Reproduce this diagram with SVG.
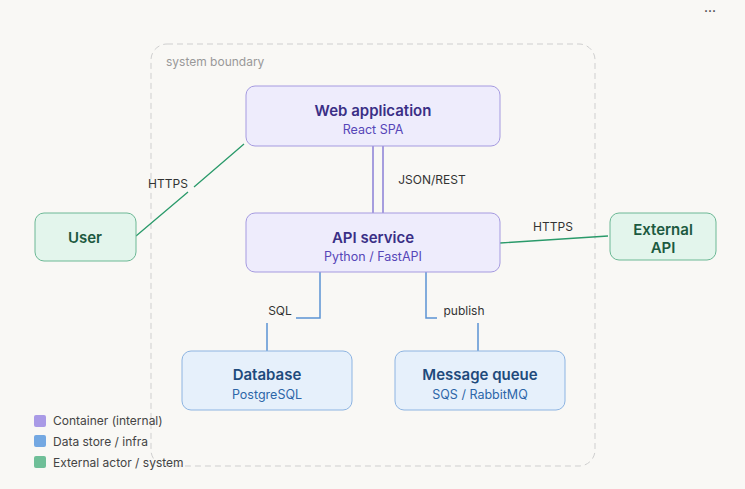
<svg xmlns="http://www.w3.org/2000/svg" width="745" height="489" viewBox="0 0 745 489">
<style>
text{font-family:"Inter","Liberation Sans",sans-serif}
.t{font-size:15px;font-weight:600;text-anchor:middle}
.s{font-size:12.5px;text-anchor:middle}
.lbl{font-size:12px;fill:#333;text-anchor:middle}
.int rect{fill:#eeecfc;stroke:#a59ae0}
.int .t{fill:#3a2f86}.int .s{fill:#5646b8}
.ds rect{fill:#e6f0fb;stroke:#8db4e2}
.ds .t{fill:#1e4a7c}.ds .s{fill:#2d66a8}
.ex rect{fill:#e3f5ec;stroke:#6cb895}
.ex .t{fill:#1c5a40}
.leg{font-size:12px;fill:#444}
</style>
<rect width="745" height="489" fill="#f9f8f5"/>
<text x="710" y="16" font-size="14" fill="#333" text-anchor="middle">···</text>
<rect x="151" y="44" width="444" height="422" rx="16" fill="none" stroke="#cfcfcf" stroke-dasharray="6 4"/>
<text x="166" y="66" font-size="12" fill="#999">system boundary</text>
<g id="connectors" fill="none">
<path d="M373 146V213M383 146V213" stroke="#8a7fd6" stroke-width="1.5"/>
<path d="M136 236L188 192M194 187L244 144" stroke="#2a9a6a" stroke-width="1.3"/>
<path d="M500 243L608 236" stroke="#2a9a6a" stroke-width="1.3"/>
<path d="M320 272V318H296M267 323V351" stroke="#5b93d3" stroke-width="1.5"/>
<path d="M426 272V318H437M478 323V351" stroke="#5b93d3" stroke-width="1.5"/>
<g stroke="none">
<text class="lbl" x="168" y="188">HTTPS</text>
<text class="lbl" x="432" y="184">JSON/REST</text>
<text class="lbl" x="553" y="231">HTTPS</text>
<text class="lbl" x="280" y="315">SQL</text>
<text class="lbl" x="464" y="315">publish</text>
</g>
</g>
<g id="webapp" class="int"><rect x="246" y="86" width="254" height="60" rx="9"/><text class="t" x="373" y="116">Web application</text><text class="s" x="373" y="134">React SPA</text></g>
<g id="api" class="int"><rect x="246" y="213" width="254" height="59" rx="9"/><text class="t" x="373" y="243">API service</text><text class="s" x="373" y="261">Python / FastAPI</text></g>
<g id="db" class="ds"><rect x="182" y="351" width="170" height="59" rx="9"/><text class="t" x="267" y="380">Database</text><text class="s" x="267" y="399">PostgreSQL</text></g>
<g id="mq" class="ds"><rect x="395" y="351" width="170" height="59" rx="9"/><text class="t" x="480" y="380">Message queue</text><text class="s" x="480" y="399">SQS / RabbitMQ</text></g>
<g id="user" class="ex"><rect x="35" y="213" width="101" height="48" rx="9"/><text class="t" x="85" y="243">User</text></g>
<g id="extapi" class="ex"><rect x="610" y="213" width="106" height="47" rx="9"/><text class="t" x="663" y="235">External</text><text class="t" x="663" y="253">API</text></g>
<g id="legend">
<rect x="34" y="415" width="12" height="12" rx="2" fill="#a99ae6"/><text class="leg" x="53" y="425">Container (internal)</text>
<rect x="34" y="435" width="12" height="12" rx="2" fill="#74a8e2"/><text class="leg" x="53" y="446">Data store / infra</text>
<rect x="34" y="456" width="12" height="12" rx="2" fill="#6fbf98"/><text class="leg" x="53" y="467">External actor / system</text>
</g>
</svg>
